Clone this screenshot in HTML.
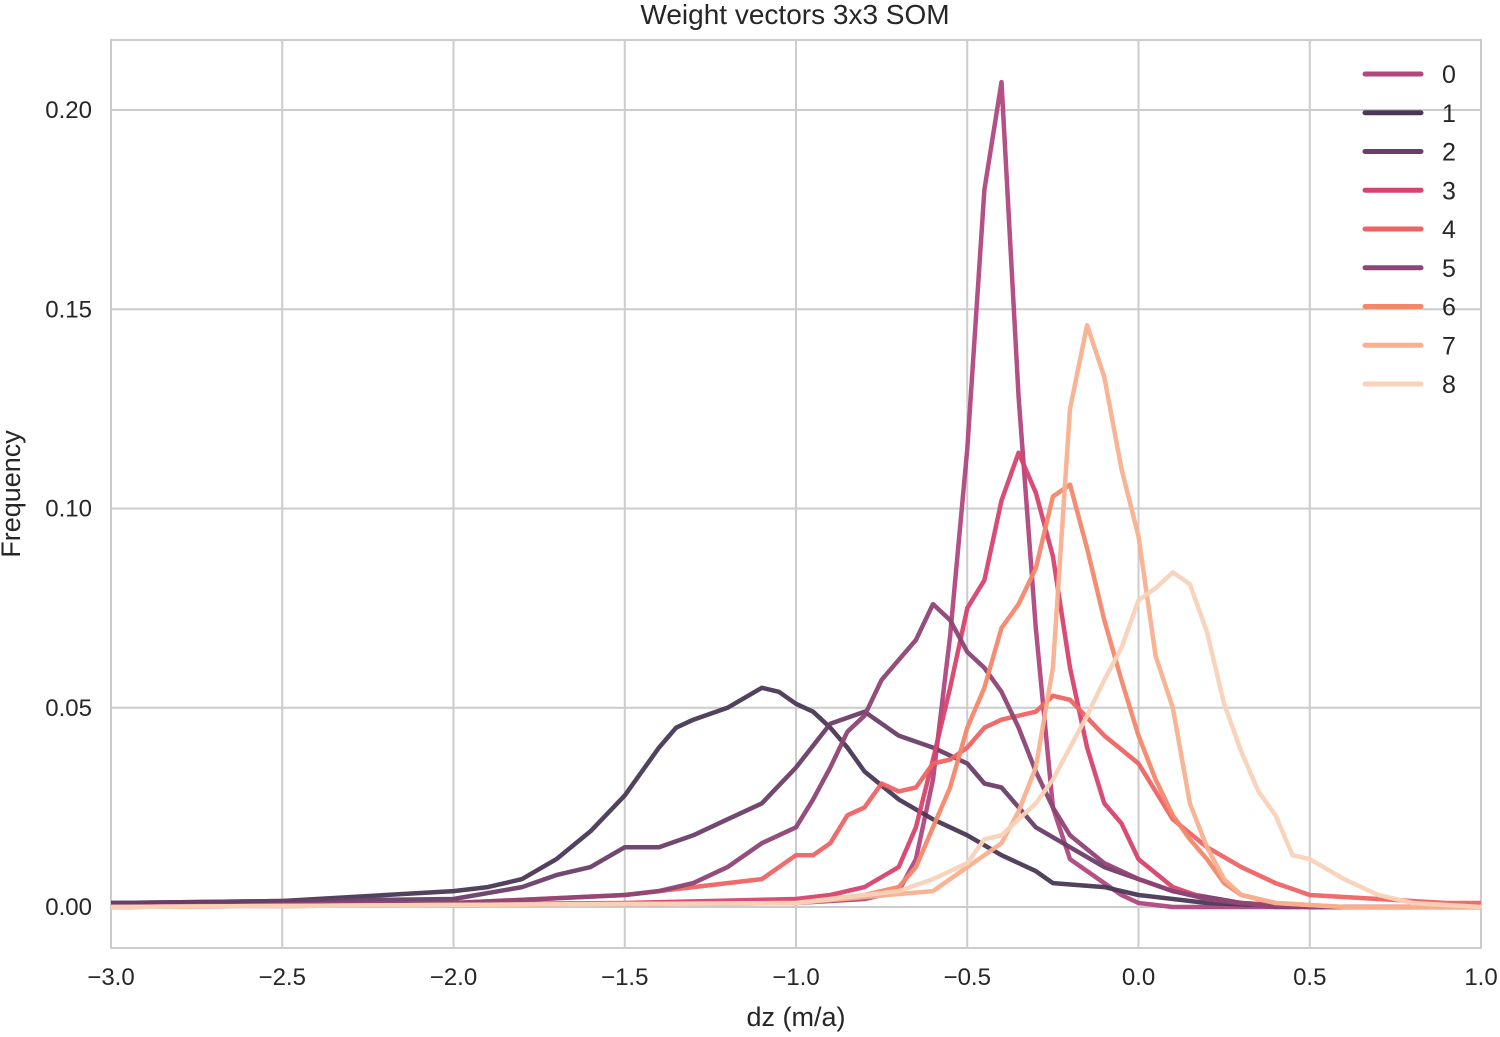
<!DOCTYPE html>
<html><head><meta charset="utf-8"><style>
body{margin:0;background:#fff;}
svg text{font-family:"Liberation Sans",Arial,sans-serif;fill:#262626;}
</style></head><body>
<svg id="chart" width="1500" height="1032" xmlns="http://www.w3.org/2000/svg">
<text x="795" y="24" font-size="28" text-anchor="middle">Weight vectors 3x3 SOM</text>
<g id="grid"></g><g id="lines"></g><g id="legend"></g>
<text x="796" y="1026" font-size="27" text-anchor="middle">dz (m/a)</text>
<text x="20" y="494" font-size="27" text-anchor="middle" transform="rotate(-90 20 494)">Frequency</text>
</svg>
<script>
const xTicks=[-3.0,-2.5,-2.0,-1.5,-1.0,-0.5,0.0,0.5,1.0];
const xTickLabels=["\u22123.0","\u22122.5","\u22122.0","\u22121.5","\u22121.0","\u22120.5","0.0","0.5","1.0"];
const yTicks=[0,0.05,0.10,0.15,0.20];
const yTickLabels=["0.00","0.05","0.10","0.15","0.20"];
const seriesNames=["0","1","2","3","4","5","6","7","8"];
const colors=["#b0477e","#4a3855","#6a3e68","#d7436e","#ef6363","#8e4575","#f3876a","#f8b08e","#f9d2b8"];
const x0=[-3,-1.0,-0.8,-0.7,-0.65,-0.6,-0.55,-0.5,-0.45,-0.4,-0.35,-0.3,-0.25,-0.2,-0.15,-0.1,-0.05,0,0.1,1];
const y0=[0,0.001,0.002,0.004,0.012,0.032,0.068,0.115,0.18,0.207,0.128,0.07,0.025,0.012,0.009,0.006,0.003,0.001,0,0];
const x1=[-3,-2.5,-2.0,-1.9,-1.8,-1.7,-1.6,-1.5,-1.4,-1.35,-1.3,-1.2,-1.1,-1.05,-1.0,-0.95,-0.9,-0.85,-0.8,-0.7,-0.6,-0.5,-0.4,-0.3,-0.25,-0.1,0,0.2,0.5,1];
const y1=[0.001,0.0015,0.004,0.005,0.007,0.012,0.019,0.028,0.04,0.045,0.047,0.05,0.055,0.054,0.051,0.049,0.045,0.04,0.034,0.027,0.022,0.018,0.013,0.009,0.006,0.005,0.003,0.001,0,0];
const x2=[-3,-2,-1.8,-1.7,-1.6,-1.5,-1.4,-1.3,-1.2,-1.1,-1.0,-0.9,-0.8,-0.7,-0.6,-0.5,-0.45,-0.4,-0.3,-0.2,-0.1,0,0.1,0.3,0.5,1];
const y2=[0.001,0.002,0.005,0.008,0.01,0.015,0.015,0.018,0.022,0.026,0.035,0.046,0.049,0.043,0.040,0.036,0.031,0.030,0.02,0.015,0.01,0.007,0.004,0.001,0,0];
const x3=[-3,-1.5,-1.0,-0.9,-0.8,-0.7,-0.65,-0.6,-0.55,-0.5,-0.45,-0.4,-0.35,-0.3,-0.25,-0.2,-0.15,-0.1,-0.05,0,0.1,0.2,0.3,0.5,1];
const y3=[0,0.001,0.002,0.003,0.005,0.01,0.02,0.037,0.055,0.075,0.082,0.102,0.114,0.104,0.088,0.06,0.04,0.026,0.021,0.012,0.005,0.002,0.001,0,0];
const x4=[-3,-2,-1.5,-1.3,-1.2,-1.1,-1.0,-0.95,-0.9,-0.85,-0.8,-0.75,-0.7,-0.65,-0.6,-0.55,-0.5,-0.45,-0.4,-0.3,-0.25,-0.2,-0.1,0,0.1,0.2,0.3,0.4,0.5,0.7,0.9,1];
const y4=[0,0.001,0.003,0.005,0.006,0.007,0.013,0.013,0.016,0.023,0.025,0.031,0.029,0.03,0.036,0.037,0.04,0.045,0.047,0.049,0.053,0.052,0.043,0.036,0.022,0.015,0.01,0.006,0.003,0.002,0.001,0.001];
const x5=[-3,-2,-1.5,-1.4,-1.3,-1.2,-1.1,-1.0,-0.95,-0.9,-0.85,-0.8,-0.75,-0.7,-0.65,-0.6,-0.55,-0.5,-0.45,-0.4,-0.35,-0.3,-0.25,-0.2,-0.1,0,0.1,0.2,0.4,1];
const y5=[0,0.001,0.003,0.004,0.006,0.01,0.016,0.02,0.027,0.035,0.044,0.048,0.057,0.062,0.067,0.076,0.072,0.064,0.06,0.054,0.045,0.034,0.025,0.018,0.011,0.007,0.004,0.002,0,0];
const x6=[-3,-1.0,-0.8,-0.7,-0.65,-0.6,-0.55,-0.5,-0.45,-0.4,-0.35,-0.3,-0.25,-0.2,-0.15,-0.1,-0.05,0,0.05,0.1,0.15,0.2,0.25,0.3,0.4,0.6,1];
const y6=[0,0.001,0.003,0.005,0.01,0.02,0.03,0.045,0.055,0.07,0.076,0.085,0.103,0.106,0.09,0.072,0.057,0.043,0.032,0.023,0.017,0.012,0.006,0.003,0.001,0,0];
const x7=[-3,-1,-0.6,-0.5,-0.45,-0.4,-0.35,-0.3,-0.25,-0.2,-0.15,-0.1,-0.05,0,0.05,0.1,0.15,0.2,0.25,0.3,0.4,0.6,1];
const y7=[0,0.001,0.004,0.01,0.013,0.016,0.024,0.035,0.06,0.125,0.146,0.133,0.11,0.093,0.063,0.05,0.026,0.015,0.007,0.003,0.001,0,0];
const x8=[-3,-1,-0.7,-0.6,-0.5,-0.45,-0.4,-0.35,-0.3,-0.25,-0.2,-0.15,-0.1,-0.05,0,0.05,0.1,0.15,0.2,0.25,0.3,0.35,0.4,0.45,0.5,0.6,0.7,0.8,1];
const y8=[0,0.001,0.004,0.007,0.011,0.017,0.018,0.022,0.026,0.032,0.04,0.048,0.057,0.065,0.077,0.08,0.084,0.081,0.069,0.051,0.039,0.029,0.023,0.013,0.012,0.007,0.003,0.001,0];
const xs=[x0,x1,x2,x3,x4,x5,x6,x7,x8], ys=[y0,y1,y2,y3,y4,y5,y6,y7,y8];
const L=111,R=1481,T=40,B=948;
const sx=v=>L+(v+3)/4*(R-L);
const sy=v=>907-v*(797/0.2);
const NS="http://www.w3.org/2000/svg";
function mk(t,a,p){const e=document.createElementNS(NS,t);for(const k in a)e.setAttribute(k,a[k]);p.appendChild(e);return e;}
const g=document.getElementById('grid');
const frame=mk('rect',{x:L,y:T,width:R-L,height:B-T,fill:'none',stroke:'#cccccc','stroke-width':2},g);


xTicks.forEach((v,i)=>{
  const l=mk('line',{x1:sx(v),x2:sx(v),y1:T,y2:B,stroke:'#cccccc','stroke-width':2},g);
  
  
  const t=mk('text',{x:sx(v),y:985,'font-size':24,'text-anchor':'middle'},g);t.textContent=xTickLabels[i];
  
  
});
yTicks.forEach((v,i)=>{
  const l=mk('line',{x1:L,x2:R,y1:sy(v),y2:sy(v),stroke:'#cccccc','stroke-width':2},g);
  
  
  const t=mk('text',{x:92,y:sy(v)+8,'font-size':24,'text-anchor':'end'},g);t.textContent=yTickLabels[i];
  
  
});
const lg=document.getElementById('lines');
xs.forEach((xa,s)=>{
  const d=xa.map((v,i)=>(i?'L':'M')+sx(v).toFixed(1)+','+sy(ys[s][i]).toFixed(1)).join('');
  const p=mk('path',{d:d,fill:'none',stroke:colors[s],'stroke-width':4.5,'stroke-linejoin':'round','stroke-opacity':0.95},lg);
  
  
});
const leg=document.getElementById('legend');
seriesNames.forEach((n,i)=>{
  const y=74+i*38.75;
  const l=mk('line',{x1:1365,x2:1421,y1:y,y2:y,stroke:colors[i],'stroke-width':5,'stroke-linecap':'round'},leg);
  
  
  const t=mk('text',{x:1442,y:y+9,'font-size':25},leg);t.textContent=n;
  
  
});
</script>
</body></html>
